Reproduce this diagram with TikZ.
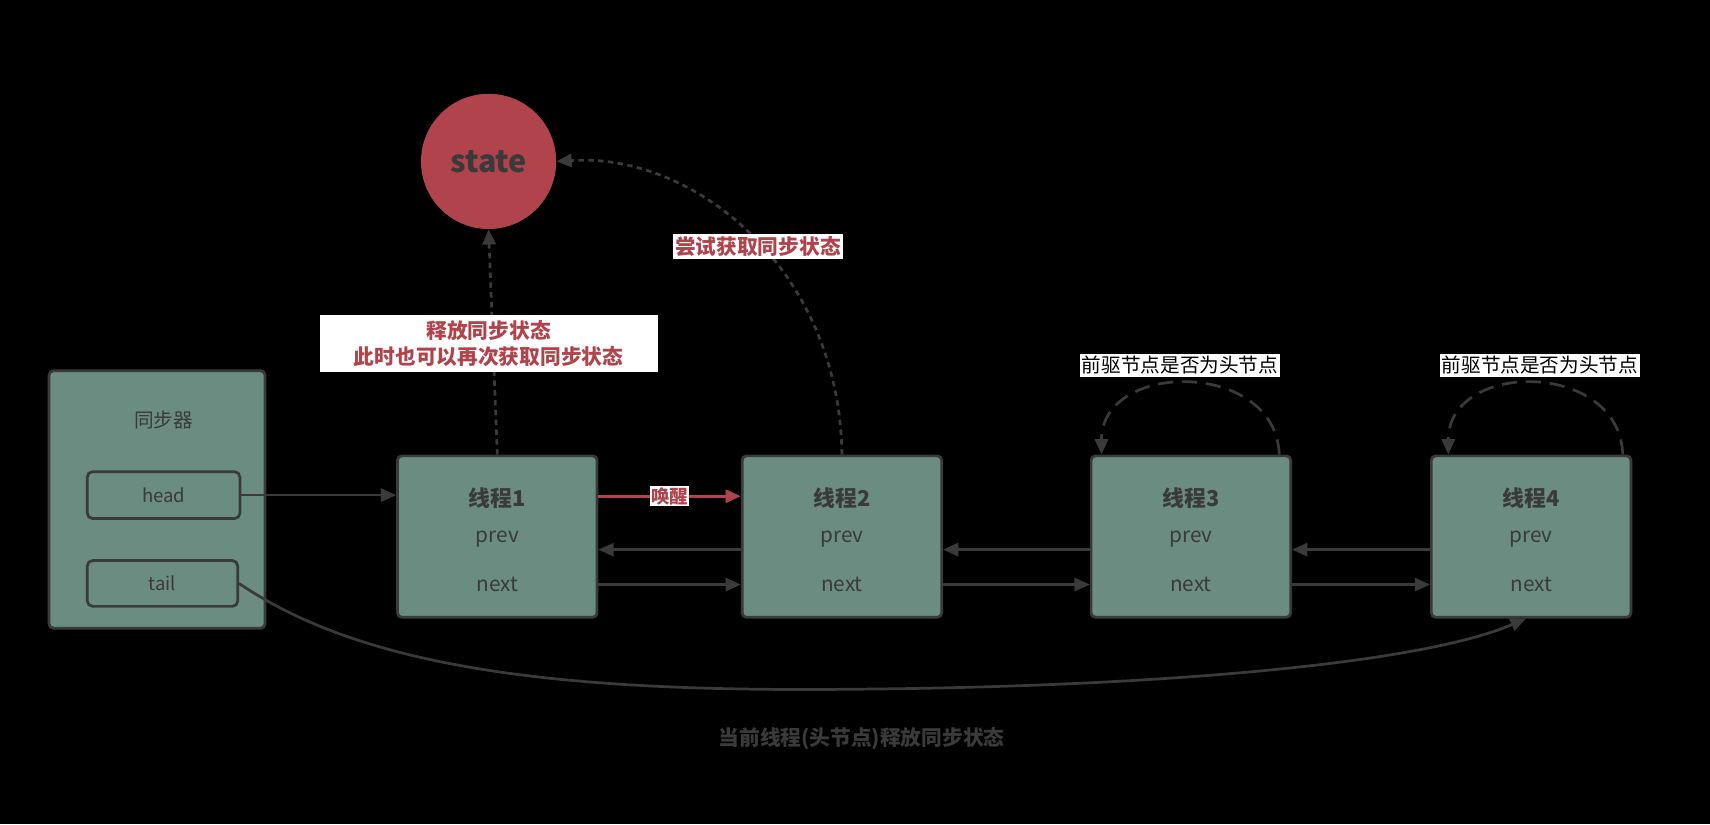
\documentclass[tikz,border=0pt]{standalone}
\usepackage{fontspec}
\setmainfont{Noto Sans CJK SC}
\usetikzlibrary{arrows.meta}
\definecolor{boxg}{HTML}{6B8C80}
\definecolor{edge}{HTML}{3A3A3A}
\definecolor{redc}{HTML}{B0434B}
\begin{document}
\begin{tikzpicture}[x=1pt,y=-1pt,
  thr/.style={draw=edge,line width=2.5pt,fill=boxg,rounded corners=4pt,minimum width=183pt,minimum height=148pt},
  fld/.style={draw=edge,line width=2.5pt,fill=boxg,rounded corners=5pt,minimum width=140pt,minimum height=43pt,font=\fontsize{17}{20}\selectfont,text=edge},
  txt/.style={font=\fontsize{19}{22}\selectfont,text=edge},
  arr/.style={draw=edge,line width=2.5pt,-{Triangle[length=14pt,width=12pt]}},
  lab/.style={fill=white,font=\fontsize{18}{22}\selectfont,inner sep=2pt}]
\fill[black] (0,0) rectangle (1568,756);
\useasboundingbox (0,0) rectangle (1568,756);
\node[thr,minimum width=198pt,minimum height=236pt] (sync) at (144,458) {};
\node[txt,font=\fontsize{18}{22}\selectfont] (st) at (150,385) {同步器};
\node[fld] (head) at (150,454) {head};
\node[fld,minimum width=138pt,minimum height=42pt] (tail) at (149,535) {tail};
\foreach \i/\x in {1/456,2/772,3/1092,4/1404}{
  \node[thr] (t\i) at (\x,492) {};
  \node[txt,font=\bfseries\fontsize{20}{24}\selectfont] (n\i) at (\x,457) {线程\i};
  \node[txt] (p\i) at (\x,494) {prev};
  \node[txt] (x\i) at (\x,536) {next};
}
\node[circle,fill=redc,minimum size=124pt,text=edge,font=\bfseries\fontsize{28}{32}\selectfont] (state) at (448,148) {state};
\draw[arr] (head.east) -- (t1.west |- head.east);
\draw[draw=redc,line width=3pt,-{Triangle[length=14pt,width=12pt]},color=redc] (t1.east |- 0,455) -- node[lab,fill=white,text=redc,font=\bfseries\fontsize{17}{20}\selectfont,inner sep=1pt]{唤醒} (t2.west |- 0,455);
\foreach \a/\b in {1/2,2/3,3/4}{
  \draw[arr] (t\b.west |- 0,504) -- (t\a.east |- 0,504);
  \draw[arr] (t\a.east |- 0,536) -- (t\b.west |- 0,536);
}
\draw[arr,dash pattern=on 5pt off 4pt] (t1.north) -- (state.south);
\node[lab,text=redc,font=\bfseries\fontsize{19}{24}\selectfont,align=center,minimum width=310pt,minimum height=52pt] (l1) at (448,315) {释放同步状态\\此时也可以再次获取同步状态};
\draw[arr,dash pattern=on 5pt off 4pt] (t2.north) .. controls (770,250) and (640,140) .. (state.east);
\node[lab,text=redc,font=\bfseries\fontsize{19}{22}\selectfont] (l2) at (695,226) {尝试获取同步状态};
\draw[arr,dash pattern=on 14pt off 8pt] ([xshift=81pt]t3.north) .. controls (1170,330) and (1010,330) .. ([xshift=-82pt]t3.north);
\node[lab] (l3) at (1082,335) {前驱节点是否为头节点};
\draw[arr,dash pattern=on 14pt off 8pt] ([xshift=84pt]t4.north) .. controls (1485,330) and (1328,330) .. ([xshift=-76pt]t4.north);
\node[lab] (l4) at (1412,335) {前驱节点是否为头节点};
\draw[arr] (tail.east) .. controls (330,610) and (500,635) .. (780,632) .. controls (1050,630) and (1300,610) .. ([xshift=-5pt]t4.south);
\node[txt,font=\bfseries\fontsize{19}{22}\selectfont] (bt) at (790,677) {当前线程(头节点)释放同步状态};
\end{tikzpicture}
\end{document}
